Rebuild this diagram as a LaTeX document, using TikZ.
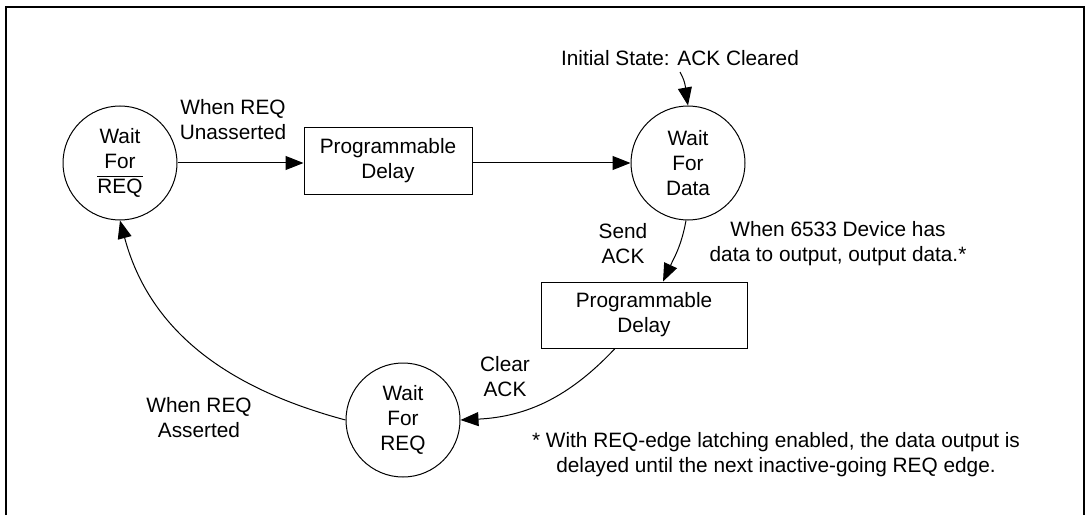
\documentclass[tikz,border=0pt]{standalone}
\usepackage{fontspec}
\setmainfont{Liberation Sans}
\usetikzlibrary{arrows.meta}

\begin{document}
\begin{tikzpicture}[x=0.5pt, y=0.5pt,
  every node/.style={font=\fontsize{10.4}{12.5}\selectfont},
  state/.style={draw, circle, line width=0.5pt, minimum size=57pt, inner sep=0pt, align=center},
  delay/.style={draw, rectangle, line width=0.5pt, minimum height=33pt, align=center},
  txt/.style={align=center, inner sep=1pt},
  link/.style={-{Triangle[length=9pt,width=7pt]}, line width=0.5pt}]
  \useasboundingbox (0,0) rectangle (1086,515);
  \draw[line width=1pt] (6,0) -- (6,508) -- (1084,508) -- (1084,0);

  % states and delays
  \node[state] (nreq) at (120,352) {Wait\\For\\$\overline{\mbox{REQ}}$};
  \node[state] (data) at (688,352) {Wait\\For\\Data};
  \node[state] (req)  at (403,95)  {Wait\\For\\REQ};
  \node[delay, minimum width=84pt]  (dly1) at (388,354) {Programmable\\Delay};
  \node[delay, minimum width=103pt] (dly2) at (644,200) {Programmable\\Delay};

  % labels
  \node[txt] (unass) at (233,395) {When REQ\\Unasserted};
  \node[txt] (init)  at (680,457) {Initial State: ACK Cleared};
  \node[txt] (send)  at (623,271) {Send\\ACK};
  \node[txt] (has)   at (838,271) {When 6533 Device has\\data to output, output data.*};
  \node[txt] (clear) at (505,138) {Clear\\ACK};
  \node[txt] (ass)   at (199,97)  {When REQ\\Asserted};
  \node[txt] (note)  at (776,60)  {* With REQ-edge latching enabled, the data output is\\delayed until the next inactive-going REQ edge.};

  % transitions
  \draw[link] (nreq.east) -- (nreq.east -| dly1.west);
  \draw[link] (dly1.east |- data.west) -- (data.west);
  \draw[link] ([yshift=-2pt]init.south) to[out=-60, in=100] (data.north);
  \draw[link] (data.-92) to[out=-100, in=65] ([xshift=9.5pt]dly2.north);
  \draw[link] ([xshift=-14.5pt]dly2.south) to[bend left=22] (req.east);
  \draw[link] (req.west) to[out=165, in=-75] (nreq.south);
\end{tikzpicture}
\end{document}
